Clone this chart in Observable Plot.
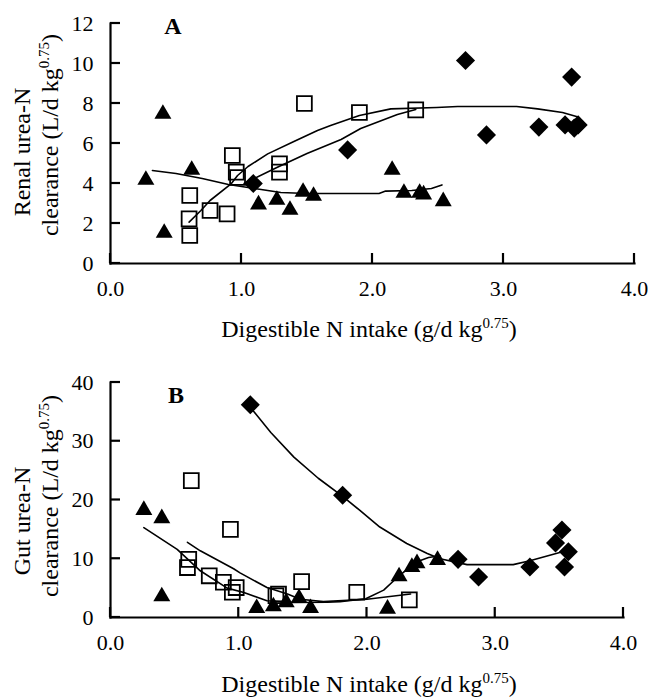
<!DOCTYPE html>
<html>
<head>
<meta charset="utf-8">
<script src="https://cdn.jsdelivr.net/npm/d3@7"></script>
<script src="https://cdn.jsdelivr.net/npm/@observablehq/plot@0.6"></script>
<style>
  body { margin: 0; background: #fff; }
  #chart svg { display: block; }
</style>
</head>
<body>
<div id="chart"></div>
<script>
// ---------- tick values ----------
const xTicks = [0, 1, 2, 3, 4];
const yTicksA = [0, 2, 4, 6, 8, 10, 12];
const yTicksB = [0, 10, 20, 30, 40];

// ---------- Panel A: renal urea-N clearance ----------
const renalTriX = [0.27, 0.40, 0.41, 0.62, 1.13, 1.27, 1.37, 1.47, 1.55, 2.15, 2.24, 2.36, 2.39, 2.54];
const renalTriY = [4.3, 7.6, 1.65, 4.8, 3.07, 3.3, 2.8, 3.7, 3.5, 4.8, 3.65, 3.65, 3.57, 3.23];
const renalSqX = [0.605, 0.60, 0.605, 0.76, 0.89, 0.93, 0.96, 0.97, 1.29, 1.29, 1.48, 1.90, 2.33];
const renalSqY = [3.4, 2.23, 1.4, 2.65, 2.48, 5.4, 4.57, 4.3, 4.98, 4.57, 8.0, 7.55, 7.68];
const renalDiaX = [1.09, 1.81, 2.71, 2.87, 3.27, 3.52, 3.47, 3.54, 3.57];
const renalDiaY = [4.0, 5.68, 10.15, 6.43, 6.82, 9.32, 6.93, 6.77, 6.93];

const renalTriFitX = [0.32, 0.5, 0.7, 0.9, 1.1, 1.3, 1.5, 2.05, 2.1, 2.3, 2.45, 2.53];
const renalTriFitY = [4.65, 4.5, 4.25, 3.95, 3.75, 3.55, 3.5, 3.5, 3.62, 3.65, 3.75, 3.93];
const renalFit1X = [0.60, 0.69, 0.76, 0.92, 0.97, 1.05, 1.2, 1.4, 1.58, 1.68, 1.9, 2.14, 2.49, 2.65, 3.1, 3.26, 3.45, 3.57];
const renalFit1Y = [2.07, 2.65, 3.15, 3.98, 4.4, 4.85, 5.48, 6.1, 6.65, 6.9, 7.4, 7.73, 7.8, 7.85, 7.85, 7.73, 7.55, 7.32];
const renalFit2X = [1.02, 1.27, 1.5, 1.76, 1.91, 2.19, 2.33];
const renalFit2Y = [4.0, 4.8, 5.5, 6.2, 6.75, 7.45, 7.7];

// ---------- Panel B: gut urea-N clearance ----------
const gutTriX = [0.26, 0.40, 0.40, 1.14, 1.27, 1.37, 1.47, 1.56, 2.16, 2.25, 2.35, 2.39, 2.55];
const gutTriY = [18.7, 17.3, 4.0, 2.0, 2.3, 3.0, 3.7, 2.0, 1.9, 7.4, 9.0, 9.65, 10.2];
const gutSqX = [0.63, 0.61, 0.60, 0.77, 0.88, 0.935, 0.95, 0.98, 1.29, 1.31, 1.49, 1.92, 2.33];
const gutSqY = [23.3, 9.9, 8.5, 7.1, 6.0, 15.0, 4.3, 5.1, 3.7, 4.0, 6.1, 4.3, 3.0];
const gutDiaX = [1.09, 1.81, 2.71, 2.87, 3.27, 3.52, 3.47, 3.57, 3.54];
const gutDiaY = [36.2, 20.8, 9.9, 6.9, 8.6, 14.9, 12.7, 11.2, 8.6];

const gutDiaFitX = [1.09, 1.25, 1.43, 1.62, 1.81, 1.94, 2.10, 2.31, 2.47, 2.57, 2.78, 3.14, 3.27, 3.51];
const gutDiaFitY = [35.8, 31.5, 27.3, 23.7, 20.6, 18.3, 15.4, 12.6, 10.9, 10.0, 9.0, 9.0, 9.65, 11.1];
const gutTriFitX = [0.26, 0.52, 0.70, 0.91, 1.04, 1.22, 1.43, 1.69, 1.79, 1.99, 2.13, 2.25, 2.39, 2.48, 2.57];
const gutTriFitY = [15.3, 11.6, 7.95, 5.0, 4.26, 2.84, 2.55, 2.6, 2.7, 3.2, 4.66, 7.1, 9.5, 10.2, 10.5];
const gutSqFitX = [0.60, 0.70, 0.96, 1.01, 1.22, 1.38, 1.48, 1.66, 2.0, 2.34];
const gutSqFitY = [12.8, 11.35, 8.3, 7.6, 5.1, 4.0, 3.1, 2.7, 3.1, 4.0];

// ---------- text ----------
const xTitle = ["Digestible N intake (g/d kg", "0.75", ")"];
const yTitleA = ["Renal urea-N", "clearance (L/d kg", "0.75", ")"];
const yTitleB = ["Gut urea-N", "clearance (L/d kg", "0.75", ")"];

const pairs = (xs, ys) => xs.map((x, i) => [x, ys[i]]);
const FONT = '"Liberation Serif", "Times New Roman", serif';
const W = 648, H = 350, ML = 110, TICK = 10;

function panel(cfg) {
  const svg = Plot.plot({
    width: W,
    height: H,
    marginLeft: ML,
    marginRight: cfg.marginRight,
    marginTop: cfg.marginTop,
    marginBottom: cfg.marginBottom,
    x: {domain: [0, 4]},
    y: {domain: cfg.yDomain},
    style: {fontFamily: FONT, fontSize: "22px", color: "#000", background: "#fff", overflow: "visible"},
    marks: [
      Plot.axisX(xTicks, {tickSize: 0, tickPadding: 17, tickFormat: d => d.toFixed(1), label: null}),
      Plot.axisY(cfg.yTicks, {tickSize: 0, tickPadding: 17, label: null}),
      Plot.frame({anchor: "left", strokeWidth: 2.2}),
      Plot.frame({anchor: "bottom", strokeWidth: 2.2}),
      ...cfg.fits.map(f => Plot.line(f, {stroke: "#000", strokeWidth: 1.6})),
      Plot.dot(cfg.tri, {symbol: "triangle", r: 6.3, fill: "#000", stroke: "none", dy: 2.45}),
      Plot.dot(cfg.dia, {symbol: "diamond2", r: 8.6, fill: "#000", stroke: "none"}),
      Plot.dot(cfg.sq, {symbol: "square", r: 8.4, fill: "none", stroke: "#000", strokeWidth: 1.8})
    ]
  });
  const s = d3.select(svg);
  // inward tick marks, positioned through the plot's own scales
  const sx = svg.scale("x"), sy = svg.scale("y");
  const x0 = sx.apply(0), y0 = sy.apply(cfg.yDomain[0]);
  const g = s.append("g").attr("stroke", "#000").attr("stroke-width", 2.2);
  xTicks.forEach(v => g.append("line")
    .attr("x1", sx.apply(v)).attr("x2", sx.apply(v))
    .attr("y1", y0).attr("y2", y0 - TICK));
  cfg.yTicks.forEach(v => g.append("line")
    .attr("x1", x0).attr("x2", x0 + TICK)
    .attr("y1", sy.apply(v)).attr("y2", sy.apply(v)));
  // panel letter
  s.append("text").attr("x", cfg.letterX).attr("y", cfg.letterY)
    .attr("text-anchor", "middle").attr("dominant-baseline", "central")
    .attr("font-family", FONT).attr("font-size", 24).attr("font-weight", "bold")
    .text(cfg.letter);
  // x title
  const xt = s.append("text").attr("x", 369).attr("y", cfg.xTitleY)
    .attr("text-anchor", "middle").attr("font-family", FONT).attr("font-size", 24);
  xt.append("tspan").text(xTitle[0]);
  xt.append("tspan").attr("dy", -9).attr("font-size", 15).text(xTitle[1]);
  xt.append("tspan").attr("dy", 9).text(xTitle[2]);
  // y title (two lines)
  s.append("text").attr("transform", `translate(30,${cfg.yTitleC1}) rotate(-90)`)
    .attr("text-anchor", "middle").attr("font-family", FONT).attr("font-size", 24)
    .text(cfg.yTitle[0]);
  const y2 = s.append("text").attr("transform", `translate(58,${cfg.yTitleC2}) rotate(-90)`)
    .attr("text-anchor", "middle").attr("font-family", FONT).attr("font-size", 24);
  y2.append("tspan").text(cfg.yTitle[1]);
  y2.append("tspan").attr("dy", -9).attr("font-size", 15).text(cfg.yTitle[2]);
  y2.append("tspan").attr("dy", 9).text(cfg.yTitle[3]);
  return svg;
}

const chart = document.getElementById("chart");
chart.appendChild(panel({
  marginTop: 23, marginBottom: 87, marginRight: 14,
  yDomain: [0, 12], yTicks: yTicksA,
  tri: pairs(renalTriX, renalTriY),
  sq: pairs(renalSqX, renalSqY),
  dia: pairs(renalDiaX, renalDiaY),
  fits: [pairs(renalTriFitX, renalTriFitY), pairs(renalFit1X, renalFit1Y), pairs(renalFit2X, renalFit2Y)],
  letter: "A", letterX: 173, letterY: 26,
  xTitleY: 337, yTitleC1: 152, yTitleC2: 135, yTitle: yTitleA
}));
chart.appendChild(panel({
  marginTop: 32, marginBottom: 83, marginRight: 25,
  yDomain: [0, 40], yTicks: yTicksB,
  tri: pairs(gutTriX, gutTriY),
  sq: pairs(gutSqX, gutSqY),
  dia: pairs(gutDiaX, gutDiaY),
  fits: [pairs(gutDiaFitX, gutDiaFitY), pairs(gutTriFitX, gutTriFitY), pairs(gutSqFitX, gutSqFitY)],
  letter: "B", letterX: 176, letterY: 45,
  xTitleY: 342, yTitleC1: 171, yTitleC2: 146, yTitle: yTitleB
}));
</script>
</body>
</html>
